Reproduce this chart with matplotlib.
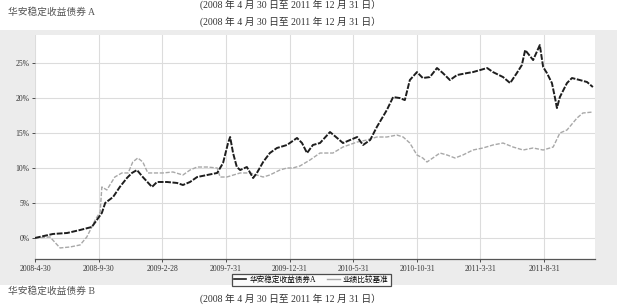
import numpy as np
import pandas as pd
import matplotlib
matplotlib.use("Agg")
import matplotlib.pyplot as plt
import matplotlib.dates as mdates
from matplotlib.patches import Rectangle
from matplotlib.lines import Line2D

plt.rcParams['font.family'] = ['Liberation Serif', 'Noto Sans CJK SC']

# 华安稳定收益债券A 累计净值增长率 (%)
fund_dates = ['2008-04-30', '2008-06-12', '2008-07-16', '2008-08-16', '2008-09-13', '2008-09-25',
              '2008-10-07', '2008-10-15', '2008-11-03', '2008-11-19', '2008-12-06', '2008-12-18',
              '2008-12-30', '2009-01-13', '2009-02-04', '2009-02-16', '2009-03-12', '2009-04-05',
              '2009-04-19', '2009-05-06', '2009-05-23', '2009-06-16', '2009-07-10', '2009-07-24',
              '2009-08-05', '2009-08-10', '2009-08-17', '2009-08-26', '2009-09-03', '2009-09-19',
              '2009-10-04', '2009-10-13', '2009-10-28', '2009-11-13', '2009-11-30', '2009-12-24',
              '2010-01-17', '2010-01-29', '2010-02-10', '2010-02-24', '2010-03-13', '2010-04-06',
              '2010-04-23', '2010-05-07', '2010-05-24', '2010-06-10', '2010-06-24', '2010-07-11',
              '2010-07-27', '2010-08-20', '2010-09-04', '2010-09-20', '2010-10-02', '2010-10-14',
              '2010-10-31', '2010-11-14', '2010-12-01', '2010-12-18', '2011-01-01', '2011-01-18',
              '2011-02-04', '2011-02-28', '2011-03-14', '2011-03-31', '2011-04-17', '2011-05-01',
              '2011-05-25', '2011-06-11', '2011-06-27', '2011-07-09', '2011-07-17', '2011-08-05',
              '2011-08-21', '2011-08-29', '2011-09-07', '2011-09-19', '2011-09-26', '2011-10-01',
              '2011-10-08', '2011-10-25', '2011-11-06', '2011-11-25', '2011-12-12', '2011-12-26']
fund_values = [0.00, 0.57, 0.71, 1.14, 1.57, 2.57,
               3.57, 5.00, 5.86, 7.29, 8.57, 9.29,
               9.71, 8.71, 7.29, 8.00, 8.00, 7.86,
               7.57, 8.00, 8.71, 9.00, 9.29, 10.71,
               13.57, 14.43, 12.14, 10.14, 9.71, 10.14,
               8.57, 9.29, 10.86, 12.14, 12.86, 13.29,
               14.29, 13.57, 12.14, 13.29, 13.57, 15.14,
               14.29, 13.57, 14.00, 14.43, 13.29, 14.00,
               15.86, 18.29, 20.14, 20.00, 19.71, 22.57,
               23.71, 22.86, 23.00, 24.29, 23.57, 22.57,
               23.29, 23.57, 23.71, 24.00, 24.29, 23.71,
               23.00, 22.14, 23.57, 24.71, 26.86, 25.43,
               27.57, 24.43, 23.57, 22.14, 20.14, 18.57,
               20.14, 22.14, 22.86, 22.57, 22.29, 21.57]

# 业绩比较基准收益率 (%)
bench_dates = ['2008-04-30', '2008-06-05', '2008-06-29', '2008-07-23', '2008-08-16', '2008-09-01',
               '2008-09-13', '2008-09-21', '2008-10-03', '2008-10-07', '2008-10-19', '2008-11-07',
               '2008-11-24', '2008-12-09', '2008-12-20', '2009-01-01', '2009-01-13', '2009-01-25',
               '2009-02-06', '2009-03-02', '2009-03-26', '2009-04-19', '2009-05-06', '2009-05-23',
               '2009-06-16', '2009-07-10', '2009-07-17', '2009-08-02', '2009-09-03', '2009-09-27',
               '2009-10-28', '2009-11-13', '2009-12-07', '2009-12-24', '2010-01-07', '2010-01-24',
               '2010-02-17', '2010-03-13', '2010-04-13', '2010-05-07', '2010-06-10', '2010-07-03',
               '2010-07-27', '2010-08-20', '2010-09-13', '2010-09-28', '2010-10-14', '2010-10-31',
               '2010-11-14', '2010-11-24', '2010-12-08', '2010-12-25', '2011-01-11', '2011-01-30',
               '2011-02-18', '2011-03-14', '2011-04-07', '2011-05-01', '2011-05-25', '2011-06-18',
               '2011-07-12', '2011-08-05', '2011-08-29', '2011-09-22', '2011-10-08', '2011-10-25',
               '2011-11-18', '2011-12-02', '2011-12-26']
bench_values = [0.00, 0.14, -1.43, -1.29, -1.00, 0.14,
                1.57, 2.57, 3.71, 7.29, 6.86, 8.71,
                9.29, 9.29, 10.86, 11.43, 10.86, 9.29,
                9.29, 9.29, 9.43, 9.00, 9.71, 10.14,
                10.14, 10.00, 8.71, 8.71, 9.29, 9.29,
                8.71, 9.00, 9.71, 10.00, 10.00, 10.29,
                11.14, 12.14, 12.14, 13.00, 13.71, 14.00,
                14.43, 14.43, 14.71, 14.43, 13.57, 11.86,
                11.43, 10.86, 11.43, 12.14, 11.86, 11.43,
                11.86, 12.57, 12.86, 13.29, 13.57, 13.00,
                12.57, 12.86, 12.57, 13.00, 15.00, 15.43,
                17.14, 17.86, 18.00]

tick_dates = ['2008-04-30', '2008-09-30', '2009-02-28', '2009-07-31', '2009-12-31',
              '2010-05-31', '2010-10-31', '2011-03-31', '2011-08-31']
y_ticks = [0, 5, 10, 15, 20, 25]
legend_labels = ['华安稳定收益债券A', '业绩比较基准']

fund_x = pd.to_datetime(fund_dates)
bench_x = pd.to_datetime(bench_dates)
tick_x = pd.to_datetime(tick_dates)

fig = plt.figure(figsize=(6.28, 3.05), dpi=100)
fig.patch.set_facecolor('white')

# gray scanned panel behind the chart
fig.patches.append(Rectangle((0, 0.066), 0.982, 0.836, transform=fig.transFigure,
                             facecolor='#ececec', edgecolor='none', zorder=-5))

ax = fig.add_axes([0.0557, 0.151, 0.8917, 0.734])
ax.set_zorder(2)
ax.set_facecolor('white')

ax.plot(bench_x, bench_values, color='#a8a8a8', lw=1.0, ls=(0, (3, 1.2)), zorder=3)
ax.plot(fund_x, fund_values, color='#1e1e1e', lw=1.4, ls=(0, (3, 0.8)), zorder=4)

ax.set_xlim(pd.Timestamp('2008-04-30'), pd.Timestamp('2011-12-31'))
ax.set_ylim(-3.0, 29.0)
ax.set_xticks(tick_x)
ax.set_xticklabels([f"{d.year}-{d.month}-{d.day}" for d in tick_x])
ax.set_yticks(y_ticks)
ax.set_yticklabels([f"{v}%" for v in y_ticks])
ax.tick_params(axis='both', labelsize=5.5, colors='#333333', length=2, width=0.6, pad=2)
ax.grid(True, color='#dcdcdc', lw=0.8)
ax.set_axisbelow(True)
for s in ['top', 'right', 'left']:
    ax.spines[s].set_visible(False)
ax.spines['bottom'].set_color('#555555')
ax.spines['bottom'].set_linewidth(0.9)

handles = [Line2D([], [], color='#1e1e1e', lw=1.2), Line2D([], [], color='#a8a8a8', lw=1.0)]
leg = fig.legend(handles, legend_labels, loc='upper left', bbox_to_anchor=(0.363, 0.115),
                 ncol=2, fontsize=5.5, frameon=True, fancybox=False, handlelength=1.6,
                 borderpad=0.3, columnspacing=1.5, handletextpad=0.4)
leg.set_zorder(5)
leg.get_frame().set_edgecolor('#222222')
leg.get_frame().set_linewidth(0.9)

date_text = '(2008 年 4 月 30 日至 2011 年 12 月 31 日）'
fig.text(8 / 628, 1 - 12 / 305, '华安稳定收益债券 A', fontsize=7, color='#555555', va='center')
fig.text(200 / 628, 1 - 5 / 305, date_text, fontsize=7, color='#333333', va='center')
fig.text(200 / 628, 1 - 22 / 305, date_text, fontsize=7, color='#333333', va='center')
fig.text(8 / 628, 1 - 291 / 305, '华安稳定收益债券 B', fontsize=7, color='#555555', va='center')
fig.text(200 / 628, 1 - 299 / 305, date_text, fontsize=7, color='#333333', va='center')

fig.savefig('out.png', dpi=100)
